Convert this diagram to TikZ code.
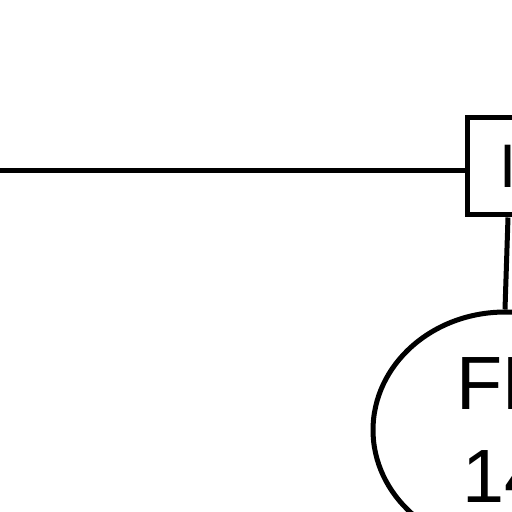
\documentclass[tikz,border=0pt]{standalone}
\usepackage{fontspec}
\setmainfont{Liberation Sans}
\usetikzlibrary{shapes.geometric}

\begin{document}
\begin{tikzpicture}[x=0.02cm,y=-0.02cm,line width=0.1cm,
  unitbox/.style={draw,rectangle,inner sep=0pt,minimum width=1.64cm,minimum height=1.96cm,
    font=\fontsize{35}{42}\selectfont},
  blob/.style={draw,ellipse,inner sep=0pt,minimum width=5.28cm,minimum height=4.72cm},
  bloblabel/.style={align=center,inner sep=0pt,font=\fontsize{43}{53}\selectfont}]
  \useasboundingbox (0,0) rectangle (512,512);
  \coordinate (feed) at (0,170);
  \node[unitbox] (unit) at (508,166) {I};
  \node[blob] (fe) at (505,430) {};
  \node[bloblabel] (felabel) at (fe.center) {FE\\14};
  \draw (feed) -- (feed -| unit.west);
  \draw (unit.south) -- (fe.north);
\end{tikzpicture}
\end{document}
